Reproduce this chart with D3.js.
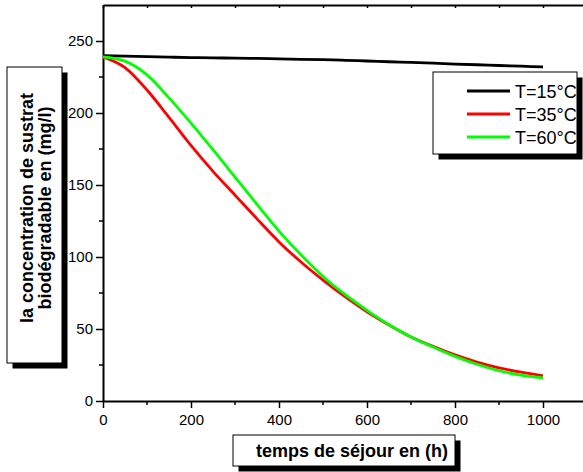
<!DOCTYPE html>
<html>
<head>
<meta charset="utf-8">
<script src="https://cdn.jsdelivr.net/npm/d3@7"></script>
<style>
  body { margin: 0; background: #fff; }
  svg { display: block; font-family: Arial, "Liberation Sans", sans-serif; }
</style>
</head>
<body>
<script>
// data
var timeH = [0, 50, 100, 150, 200, 250, 300, 350, 400, 450, 500, 550, 600, 650, 700, 750, 800, 850, 900, 950, 1000];
var conc15 = [239.8, 239.5, 239.2, 238.8, 238.5, 238.3, 238.1, 237.9, 237.6, 237.3, 237, 236.6, 236.1, 235.6, 235.1, 234.6, 234, 233.5, 233, 232.5, 232];
var conc35 = [239, 231.5, 216, 197, 177.5, 159.5, 143, 126.5, 110.5, 96.5, 84, 72.5, 62, 52.8, 44.5, 38, 32, 27, 23, 20, 17.5];
var conc60 = [239, 236, 226.5, 210.5, 193, 174.5, 155.5, 136.5, 118, 101.5, 86.5, 74, 63, 53, 44.5, 37.5, 31, 25.5, 21, 18, 16];

var seriesNames = ['T=15°C', 'T=35°C', 'T=60°C'];
var seriesColors = ['#000000', '#ff0000', '#00ff00'];
var seriesValues = [conc15, conc35, conc60];

var xMajorTicks = [0, 200, 400, 600, 800, 1000];
var xMinorTicks = [100, 300, 500, 700, 900];
var yMajorTicks = [0, 50, 100, 150, 200, 250];
var yMinorTicks = [25, 75, 125, 175, 225];

var yTitleLines = ['la concentration de sustrat', 'biodégradable en (mg/l)'];
var xTitle = 'temps de séjour en (h)';

var width = 583, height = 472;

var svg = d3.select('body').append('svg')
  .attr('width', width)
  .attr('height', height);

var x = d3.scaleLinear().domain([0, 1100]).range([103, 587]);
var y = d3.scaleLinear().domain([0, 275]).range([401, 5]);

// little helper for the boxed titles with a black drop shadow
function shadowBox(x0, y0, w, h) {
  svg.append('rect')
    .attr('x', x0 + 5.5).attr('y', y0 + 5.5)
    .attr('width', w).attr('height', h)
    .style('fill', '#000');
  svg.append('rect')
    .attr('x', x0).attr('y', y0)
    .attr('width', w).attr('height', h)
    .style('fill', '#fff')
    .style('stroke', '#000')
    .style('stroke-width', 1);
}

// axes
var gx = svg.append('g')
  .attr('transform', 'translate(0,' + y(0) + ')')
  .call(d3.axisBottom(x).tickValues(xMajorTicks).tickFormat(d3.format('d'))
    .tickSize(7).tickSizeOuter(0).tickPadding(6));
gx.append('g').selectAll('line').data(xMinorTicks).join('line')
  .attr('x1', x).attr('x2', x).attr('y1', 0).attr('y2', 4)
  .attr('stroke', '#000');

var gy = svg.append('g')
  .attr('transform', 'translate(' + x(0) + ',0)')
  .call(d3.axisLeft(y).tickValues(yMajorTicks).tickSize(7).tickSizeOuter(0).tickPadding(3));
gy.append('g').selectAll('line').data(yMinorTicks).join('line')
  .attr('y1', y).attr('y2', y).attr('x1', 0).attr('x2', -4)
  .attr('stroke', '#000');

// top frame with small inward ticks
var gt = svg.append('g')
  .attr('transform', 'translate(0,' + y(275) + ')')
  .call(d3.axisBottom(x).tickValues(xMajorTicks.concat(xMinorTicks)).tickSize(3).tickSizeOuter(0).tickFormat(''));

[gx, gy, gt].forEach(function(g) {
  g.select('.domain').attr('stroke-width', 2);
  g.selectAll('line').attr('stroke-width', 1.5);
  g.selectAll('text').style('font-size', '15px').style('fill', '#000');
});

// curves
var line = d3.line()
  .x(function(d, i) { return x(timeH[i]); })
  .y(function(d) { return y(d); })
  .curve(d3.curveMonotoneX);

svg.append('g').selectAll('path').data(seriesValues).join('path')
  .attr('d', line)
  .style('fill', 'none')
  .style('stroke', function(d, i) { return seriesColors[i]; })
  .style('stroke-width', 2.8);

// legend
shadowBox(433, 72, 144, 82);
var legend = svg.append('g').selectAll('g').data(seriesNames).join('g')
  .attr('transform', function(d, i) { return 'translate(467,' + (91 + i * 23) + ')'; });
legend.append('line')
  .attr('x1', 0).attr('x2', 43)
  .style('stroke', function(d, i) { return seriesColors[i]; })
  .style('stroke-width', 2.8);
legend.append('text')
  .attr('x', 48).attr('y', 6.5)
  .style('font-size', '18px')
  .text(function(d) { return d; });

// y title
shadowBox(7, 67, 55, 296);
svg.append('text')
  .attr('transform', 'translate(33,208) rotate(-90)')
  .attr('text-anchor', 'middle')
  .style('font-size', '18px')
  .style('font-weight', 'bold')
  .selectAll('tspan').data(yTitleLines).join('tspan')
  .attr('x', 0)
  .attr('dy', function(d, i) { return i ? 17.5 : 0; })
  .text(function(d) { return d; });

// x title
shadowBox(233, 435, 222, 31);
svg.append('text')
  .attr('x', 352).attr('y', 457)
  .attr('text-anchor', 'middle')
  .style('font-size', '18px')
  .style('font-weight', 'bold')
  .text(xTitle);
</script>
</body>
</html>
